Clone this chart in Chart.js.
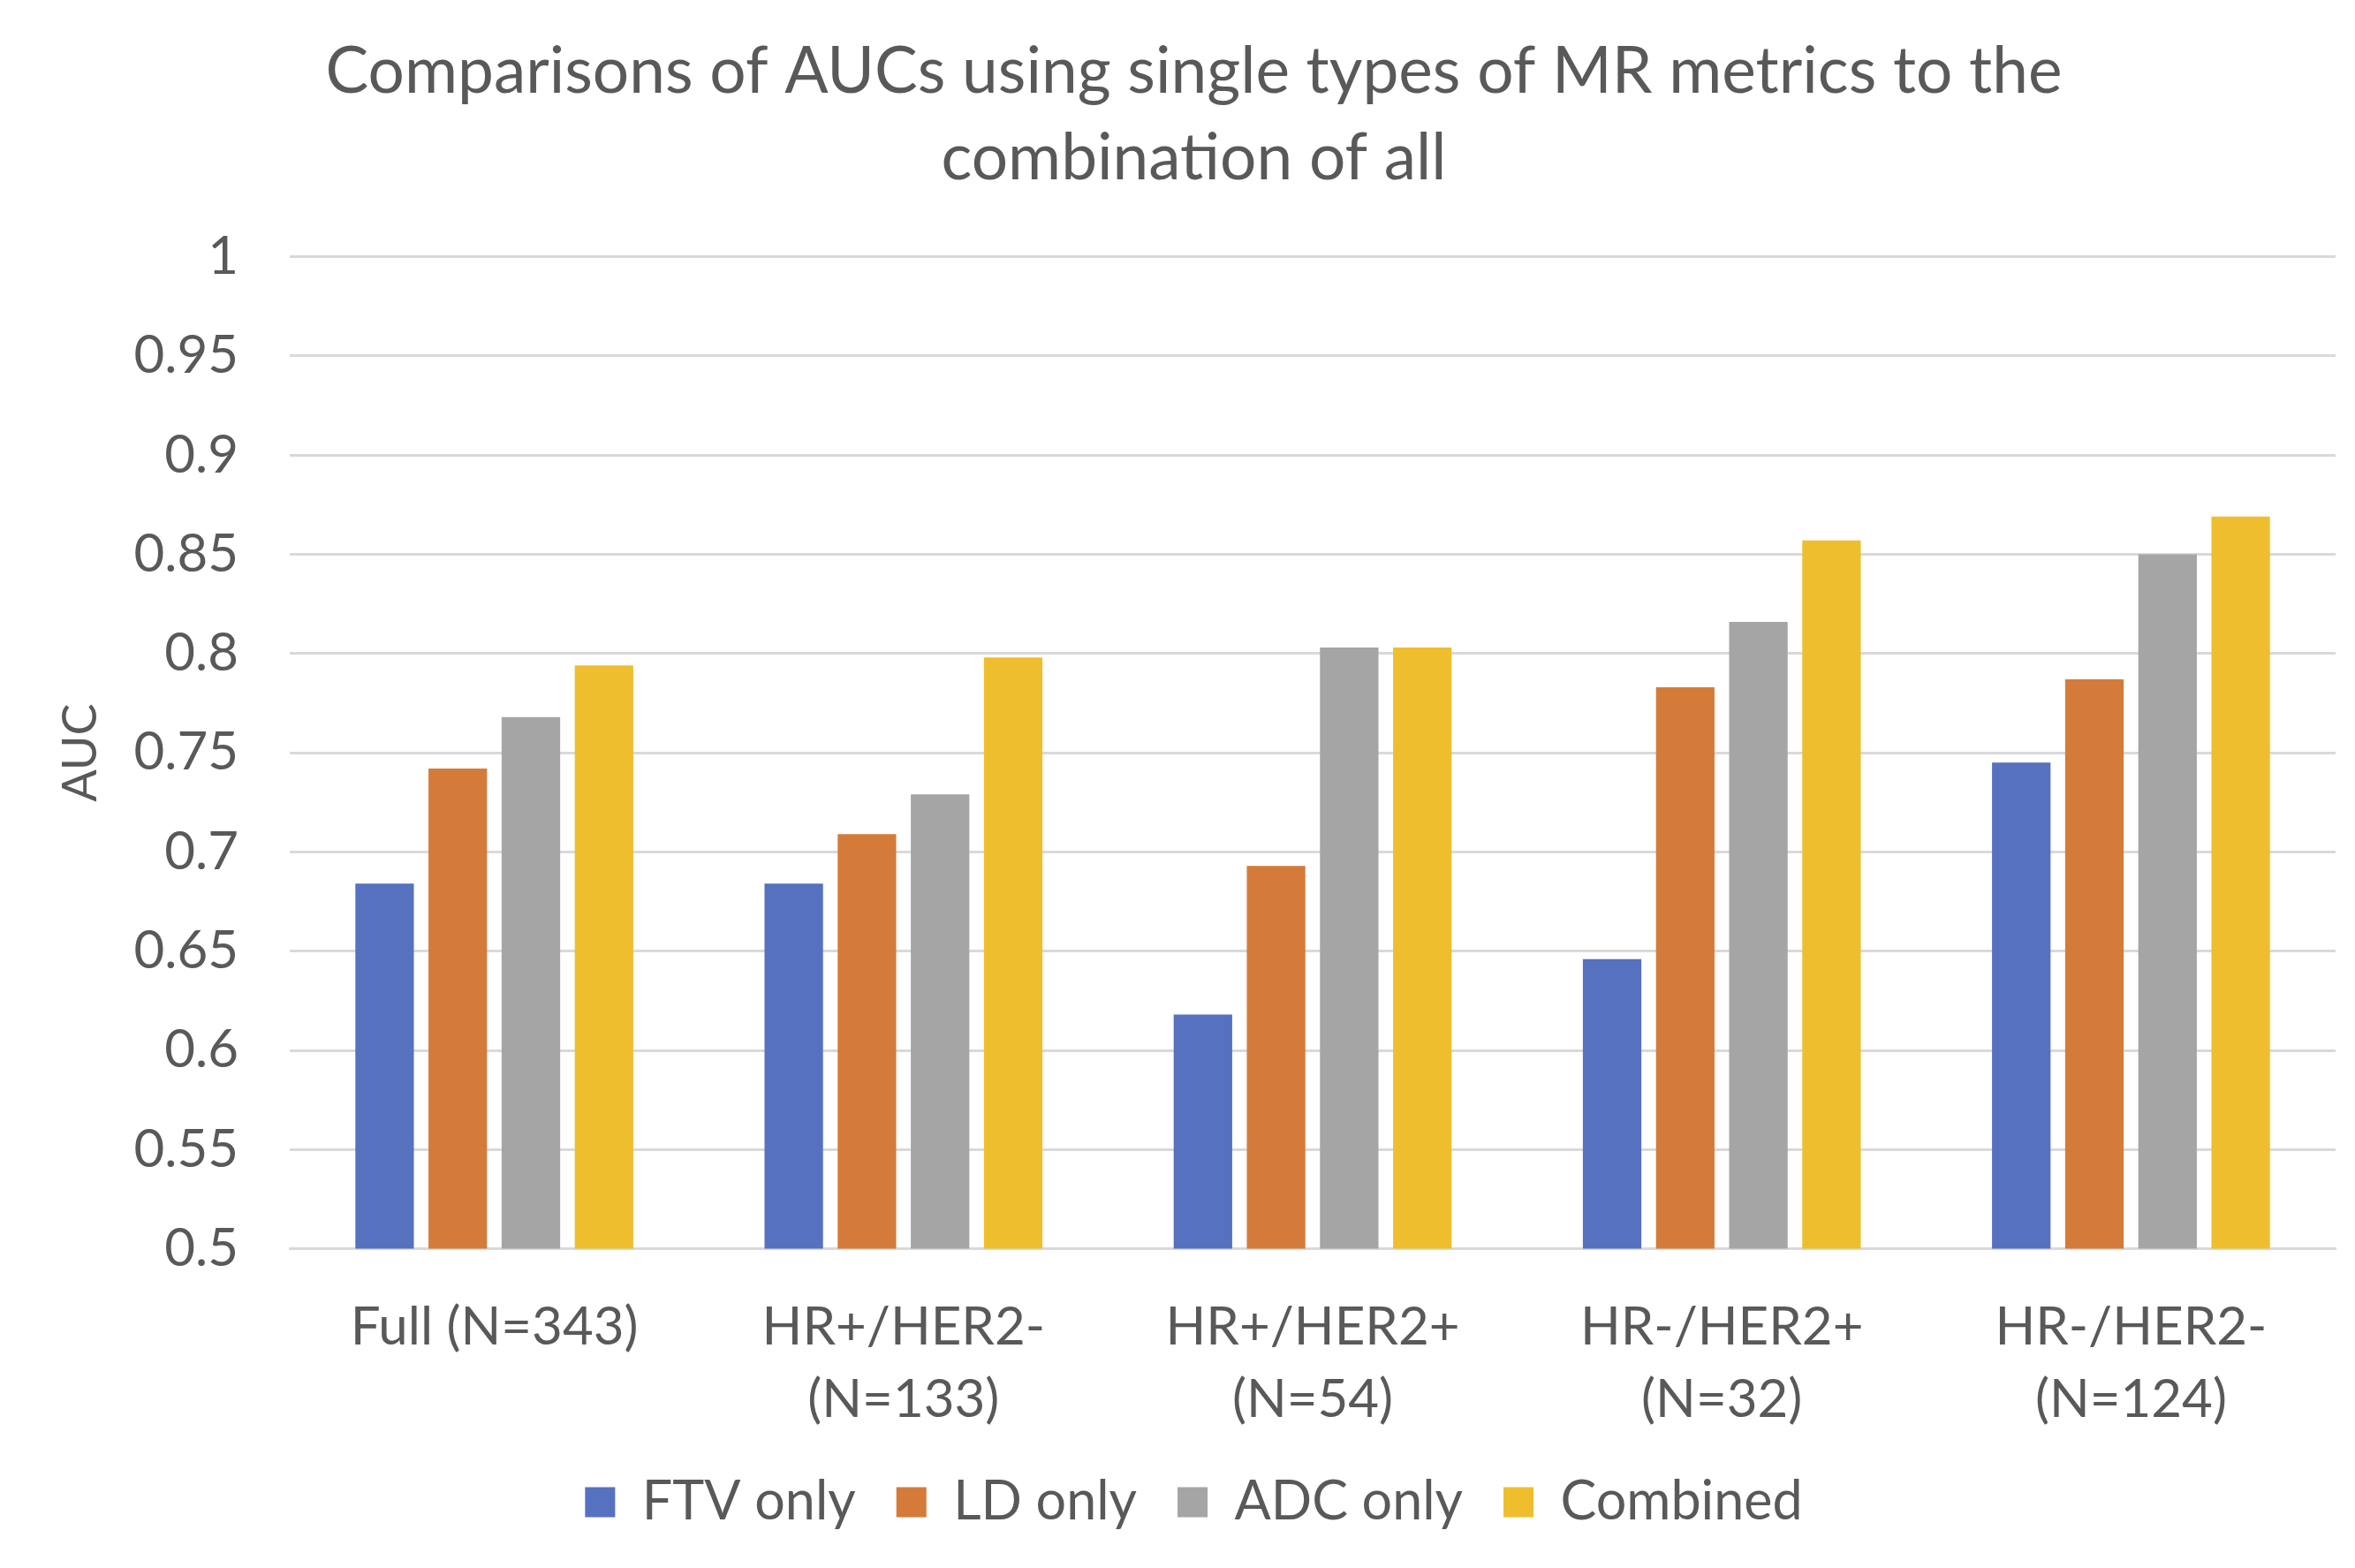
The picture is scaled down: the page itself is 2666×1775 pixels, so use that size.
<!DOCTYPE html>
<html>
<head>
<meta charset="utf-8">
<script src="https://cdn.jsdelivr.net/npm/chart.js@4/dist/chart.umd.min.js"></script>
<style>
  html, body { margin: 0; padding: 0; background: #fff; }
  #wrap { width: 2666px; height: 1775px; }
</style>
</head>
<body>
<div id="wrap"><canvas id="aucChart" width="2666" height="1775"></canvas></div>
<script>
const categories = [
  ['Full (N=343)'],
  ['HR+/HER2-', '(N=133)'],
  ['HR+/HER2+', '(N=54)'],
  ['HR-/HER2+', '(N=32)'],
  ['HR-/HER2-', '(N=124)']
]
const ftvOnly = [0.684, 0.684, 0.618, 0.646, 0.745]
const ldOnly = [0.742, 0.709, 0.693, 0.783, 0.787]
const adcOnly = [0.768, 0.729, 0.803, 0.816, 0.850]
const combined = [0.794, 0.798, 0.803, 0.857, 0.869]
const seriesNames = ['FTV only', 'LD only', 'ADC only', 'Combined']
const seriesColors = ['#5571C0', '#D57B3A', '#A5A5A5', '#EFBE2E']

const textColor = '#595959'
const gridColor = '#D9D9D9'
const fontFamily = "Lato, 'Open Sans', 'Liberation Sans', sans-serif"

const datasets = [ftvOnly, ldOnly, adcOnly, combined].map((data, i) => ({
  label: seriesNames[i],
  data,
  backgroundColor: seriesColors[i],
  borderWidth: 0,
  categoryPercentage: 0.715,
  barPercentage: 0.80
}))

new Chart(document.getElementById('aucChart').getContext('2d'), {
  type: 'bar',
  data: { labels: categories, datasets },
  options: {
    responsive: false,
    animation: false,
    devicePixelRatio: 1,
    layout: { padding: { left: 59, right: 22, top: 0, bottom: 34 } },
    plugins: {
      title: {
        display: true,
        text: ['Comparisons of AUCs using single types of MR metrics to the', 'combination of all'],
        color: textColor,
        font: { family: fontFamily, size: 73, weight: 'normal', lineHeight: 1.34 },
        padding: { top: 33, bottom: 62 }
      },
      legend: {
        position: 'bottom',
        labels: {
          color: textColor,
          font: { family: fontFamily, size: 61 },
          boxWidth: 34,
          boxHeight: 34,
          padding: 46
        }
      },
      tooltip: { enabled: false }
    },
    scales: {
      x: {
        grid: { display: false },
        border: { color: gridColor, width: 3 },
        afterFit: s => { s.height -= 42 },
        ticks: {
          color: textColor,
          font: { family: fontFamily, size: 60, lineHeight: 1.37 },
          padding: 40,
          maxRotation: 0
        }
      },
      y: {
        min: 0.5,
        max: 1,
        afterFit: s => { s.width = 269 },
        title: {
          display: true,
          text: 'AUC',
          color: textColor,
          font: { family: fontFamily, size: 54 },
          padding: { top: 0, bottom: 0 }
        },
        grid: { color: gridColor, lineWidth: 3, drawTicks: false },
        border: { display: false },
        ticks: {
          stepSize: 0.05,
          color: textColor,
          font: { family: fontFamily, size: 60 },
          padding: 58,
          callback: v => String(Number(v.toFixed(2)))
        }
      }
    }
  }
})
</script>
</body>
</html>
